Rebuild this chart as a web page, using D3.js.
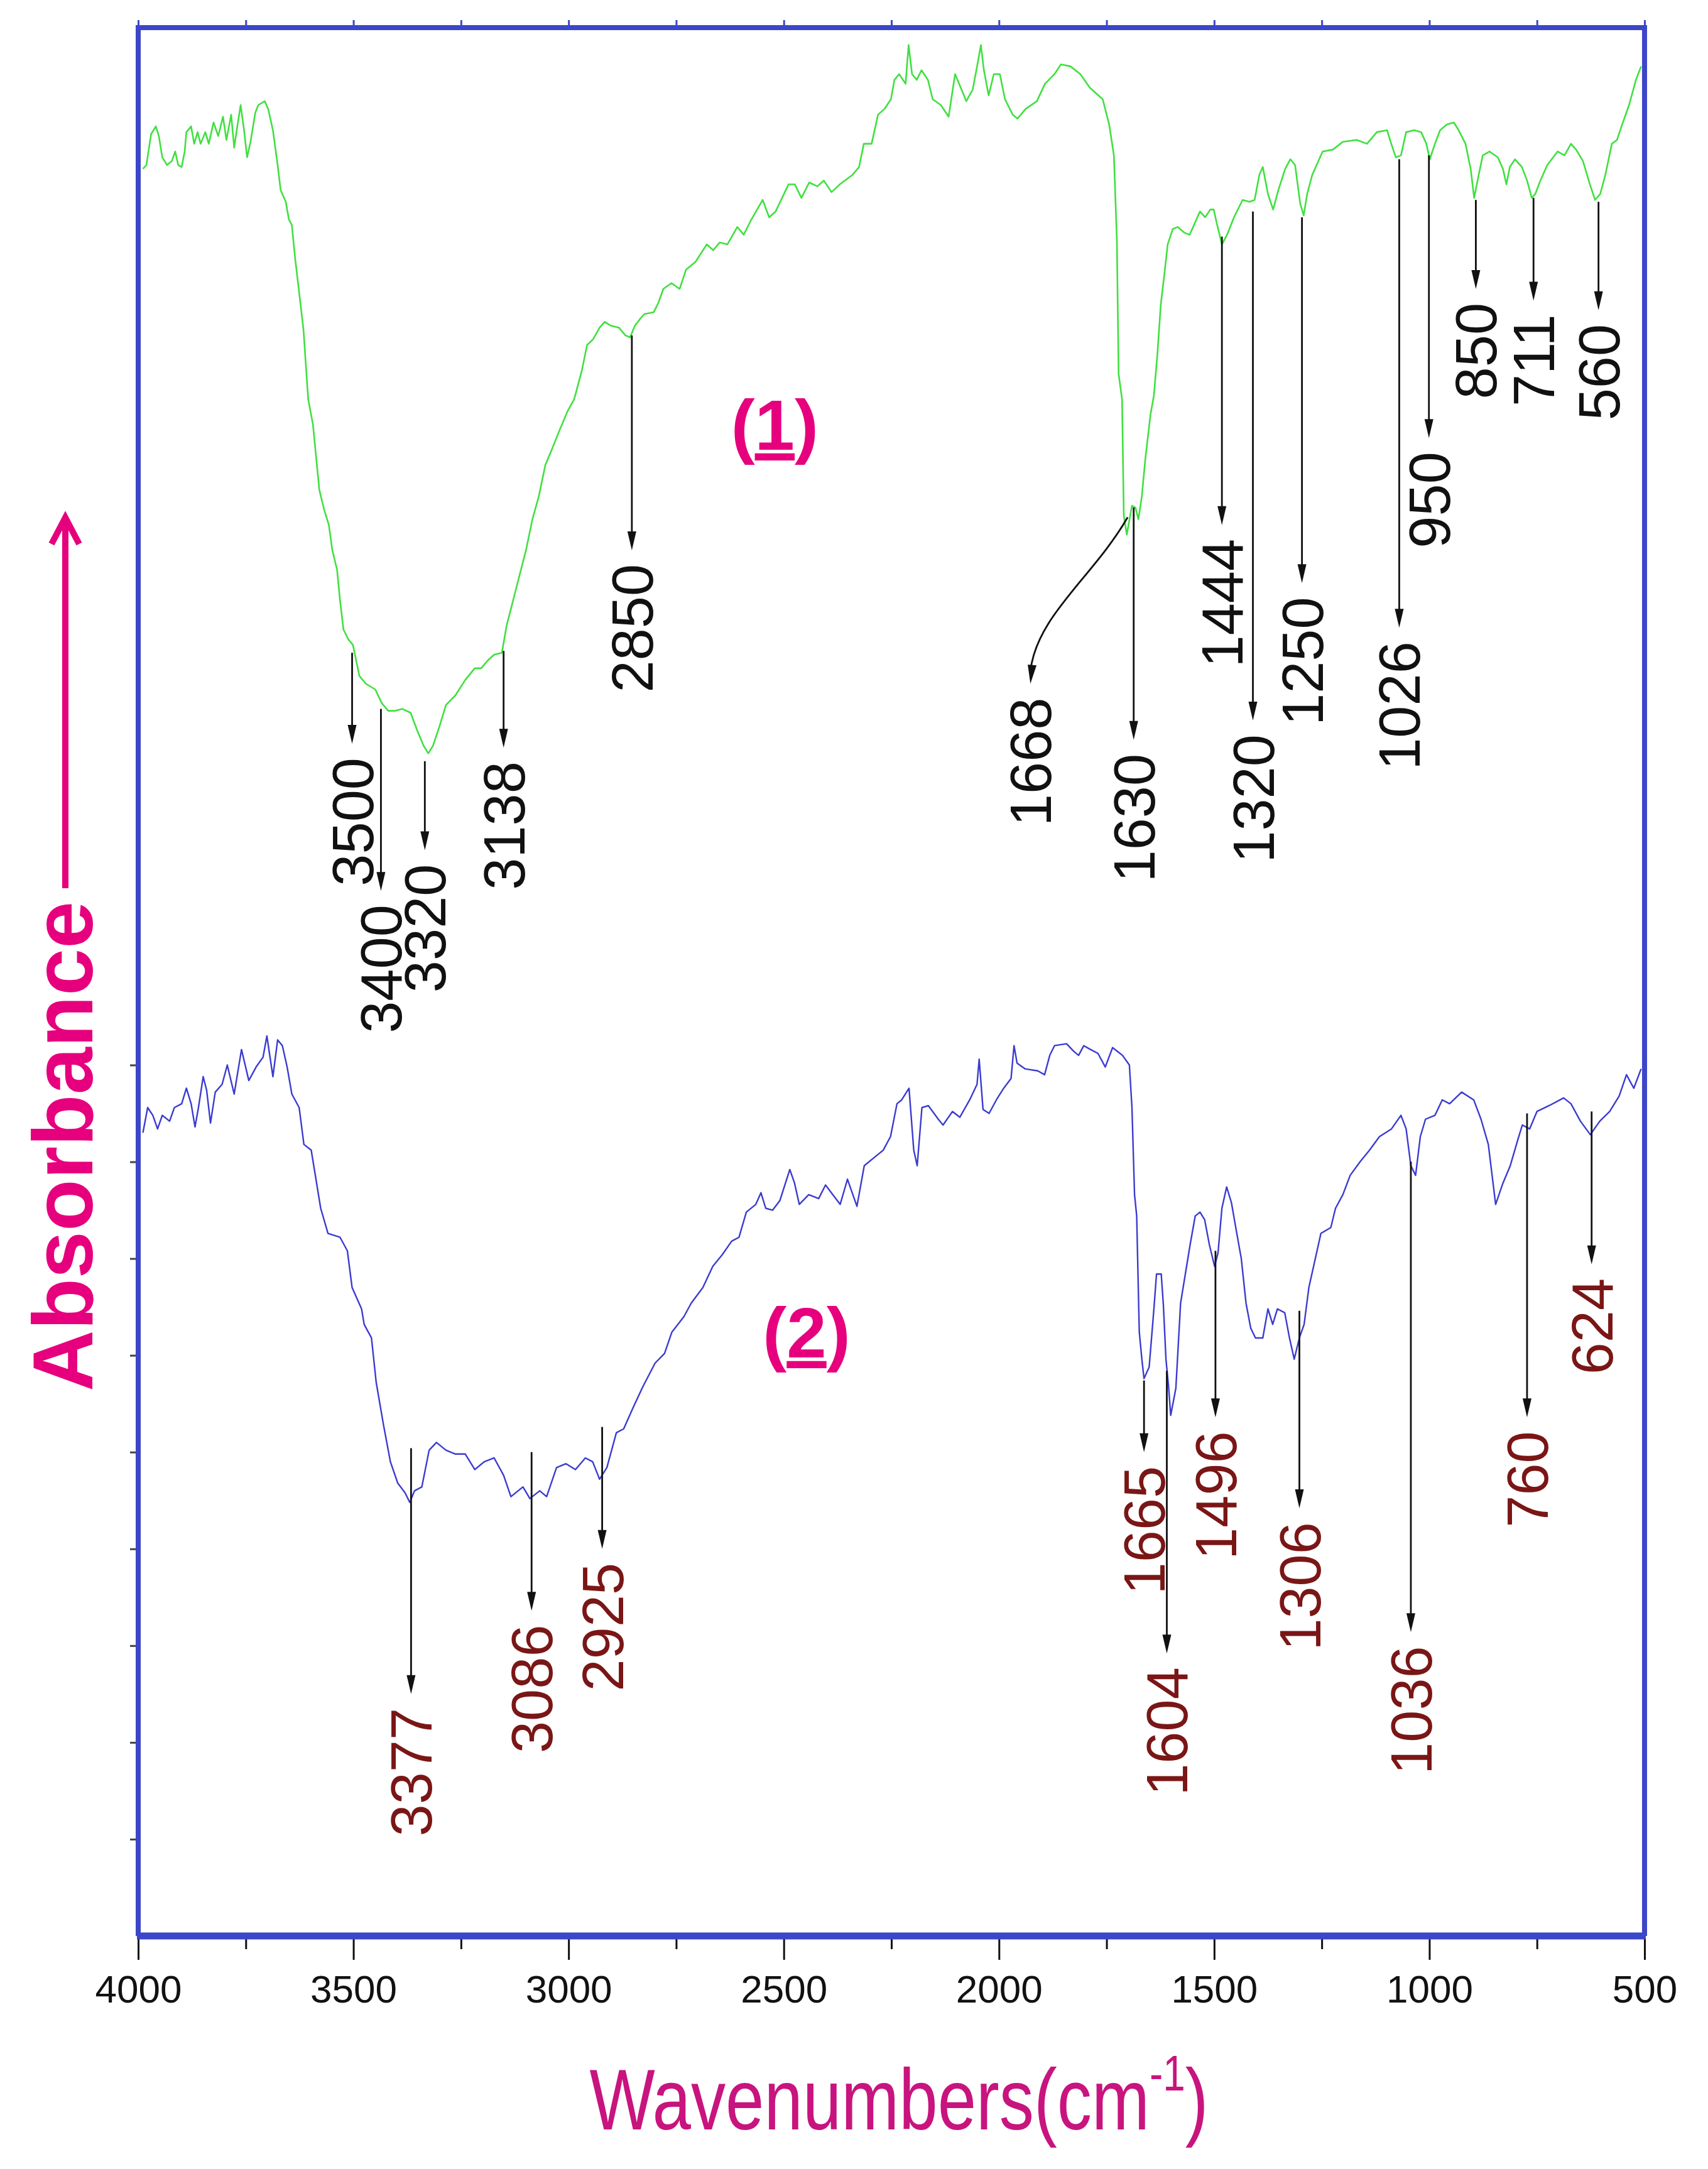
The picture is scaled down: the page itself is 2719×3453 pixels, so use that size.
<!DOCTYPE html>
<html>
<head>
<meta charset="utf-8">
<script src="https://cdn.jsdelivr.net/npm/d3@7"></script>
<style>
  html, body { margin: 0; padding: 0; background: #fff; }
  svg { display: block; font-family: "Liberation Sans", Arial, sans-serif; }
</style>
</head>
<body>
<svg id="chart" width="2719" height="3453"></svg>
<script>
// Spectrum (1): wavenumber (cm-1) and absorbance (a.u., stacked offset)
var WN1 = [3989,3981,3970,3959,3952,3944,3933,3922,3914,3907,3899,3892,3888,3877,3870,3862,3855,3844,3836,3825,
  3814,3803,3795,3784,3777,3769,3762,3754,3747,3739,3728,3721,3706,3698,3687,3676,3669,3657,3650,3643,
  3635,3628,3616,3609,3605,3594,3587,3579,3568,3557,3549,3538,3531,3523,3512,3501,3486,3471,3449,3434,
  3419,3404,3386,3367,3352,3337,3326,3315,3300,3285,3263,3240,3218,3203,3188,3173,3155,3144,3129,3114,
  3099,3084,3069,3054,3039,3021,3002,2987,2969,2957,2943,2928,2916,2902,2883,2868,2857,2846,2832,2824,
  2802,2791,2780,2761,2742,2727,2705,2679,2664,2649,2631,2608,2593,2575,2549,2534,2519,2504,2489,2474,
  2459,2441,2422,2407,2389,2370,2340,2325,2314,2296,2281,2266,2251,2243,2232,2217,2210,2202,2191,2180,
  2165,2154,2135,2117,2102,2087,2076,2061,2050,2042,2035,2024,2012,1998,1986,1968,1957,1938,1912,1893,
  1871,1856,1834,1811,1789,1759,1744,1733,1726,1722,1714,1710,1703,1691,1683,1676,1668,1660,1648,1640,
  1632,1624,1616,1608,1596,1585,1569,1557,1545,1533,1521,1509,1501,1494,1482,1470,1454,1434,1418,1406,
  1395,1387,1375,1363,1351,1335,1323,1312,1300,1292,1284,1272,1248,1224,1201,1169,1145,1122,1098,1090,
  1078,1066,1054,1035,1019,1007,999,987,975,959,943,932,916,904,896,888,876,860,841,829,
  821,813,801,785,773,762,754,742,726,702,686,671,659,643,627,615,603,591,576,564,
  552,536,520,508];
var ABS1 = [91.3,91.5,93.1,93.5,93.0,91.9,91.5,91.7,92.2,91.5,91.4,92.2,93.2,93.5,92.6,93.2,92.6,93.2,92.6,93.7,
  93.0,94.0,92.8,94.1,92.4,93.6,94.6,93.3,91.9,92.7,94.2,94.6,94.8,94.4,93.3,91.5,90.2,89.6,88.7,88.4,
  86.6,85.3,83.0,80.7,79.4,78.1,76.5,74.7,73.7,72.9,71.6,70.6,69.0,67.5,67.0,66.7,65.1,64.7,64.4,63.7,
  63.3,63.3,63.4,63.2,62.3,61.5,61.1,61.5,62.5,63.6,64.1,64.9,65.5,65.5,65.9,66.2,66.3,67.7,69.0,70.3,
  71.6,73.2,74.4,76.0,76.8,77.8,78.8,79.4,80.9,82.2,82.5,83.1,83.4,83.2,83.1,82.7,82.6,83.2,83.6,83.8,
  83.9,84.4,85.1,85.4,85.1,86.1,86.5,87.4,87.1,87.5,87.4,88.3,87.9,88.7,89.7,88.8,89.1,89.8,90.5,90.5,
  89.8,90.6,90.4,90.7,90.1,90.5,91.0,91.4,92.6,92.6,94.1,94.4,94.9,95.9,96.2,95.7,97.7,96.2,95.9,96.4,
  95.9,94.9,94.6,94.0,96.2,95.4,94.8,95.4,96.7,97.7,96.4,95.1,96.2,96.2,94.9,94.1,93.9,94.4,94.8,95.7,
  96.2,96.7,96.6,96.2,95.5,94.9,93.6,92.0,87.6,80.7,79.4,73.4,72.4,73.9,73.8,73.2,74.4,76.3,78.6,79.6,
  81.7,84.3,85.8,87.4,88.2,88.3,88.0,87.9,88.5,89.1,88.8,89.2,89.2,88.5,87.4,87.9,88.8,89.7,89.6,89.7,
  91.0,91.4,90.0,89.2,90.2,91.3,91.8,91.5,89.5,88.9,90.0,91.0,92.2,92.3,92.7,92.8,92.6,93.2,93.3,92.7,
  91.9,92.0,93.2,93.3,93.2,92.6,91.8,92.6,93.3,93.6,93.7,93.3,92.6,91.3,89.8,90.7,92.0,92.2,91.9,91.3,
  90.5,91.4,91.8,91.4,90.7,89.8,90.0,90.7,91.5,92.2,92.0,92.6,92.3,91.7,90.5,89.7,90.0,91.0,92.6,92.8,
  93.6,94.6,95.9,96.6];

// Spectrum (2)
var WN2 = [3989,3978,3966,3955,3944,3927,3916,3899,3888,3877,3868,3860,3849,3841,3832,3821,3805,3793,3777,3760,
  3743,3726,3710,3701,3687,3676,3665,3654,3643,3626,3615,3598,3587,3576,3559,3531,3514,3503,3481,3475,
  3458,3447,3430,3414,3397,3380,3369,3358,3341,3324,3307,3285,3263,3240,3218,3196,3173,3151,3134,3106,
  3090,3067,3051,3028,3006,2984,2961,2944,2928,2911,2889,2872,2850,2827,2799,2777,2760,2732,2715,2688,
  2665,2643,2621,2604,2587,2565,2553,2542,2526,2509,2486,2475,2464,2442,2419,2403,2386,2369,2352,2330,
  2313,2291,2269,2252,2237,2226,2209,2198,2190,2179,2164,2141,2130,2108,2091,2068,2051,2046,2037,2023,
  2006,1989,1972,1965,1958,1939,1910,1894,1882,1871,1843,1826,1815,1803,1787,1770,1753,1736,1713,1697,
  1691,1685,1680,1674,1668,1663,1651,1640,1634,1623,1618,1612,1606,1601,1589,1578,1567,1556,1544,1533,
  1522,1511,1499,1491,1482,1471,1460,1449,1437,1426,1415,1404,1387,1375,1364,1353,1336,1325,1314,1302,
  1291,1280,1263,1252,1229,1218,1201,1184,1161,1139,1116,1088,1066,1054,1043,1032,1021,1009,987,970,
  953,925,897,880,863,846,829,812,795,784,767,750,722,688,671,649,626,604,581,559,
  542,525,508];
var ABS2 = [41.5,42.8,42.4,41.7,42.4,42.1,42.8,43.0,43.8,43.0,41.8,42.8,44.4,43.7,42.0,43.6,44.0,45.0,43.5,45.8,
  44.2,44.9,45.4,46.5,44.4,46.3,46.0,44.9,43.5,42.8,40.9,40.6,39.1,37.6,36.3,36.1,35.4,33.5,32.4,31.6,
  30.9,28.6,26.4,24.5,23.4,22.9,22.4,23.0,23.2,25.1,25.5,25.1,24.9,24.9,24.1,24.5,24.7,23.8,22.7,23.2,
  22.6,23.0,22.7,24.2,24.4,24.1,24.7,24.5,23.6,24.2,26.0,26.2,27.3,28.4,29.6,30.1,31.2,32.0,32.7,33.5,
  34.6,35.2,35.9,36.1,37.4,37.8,38.4,37.6,37.5,38.0,39.6,38.9,37.8,38.3,38.1,38.8,38.3,37.8,39.1,37.7,
  39.8,40.2,40.6,41.3,43.0,43.2,43.8,40.6,39.8,42.8,42.9,42.2,41.9,42.6,42.3,43.2,44.0,45.3,42.7,42.5,
  43.2,43.8,44.3,46.0,45.1,44.8,44.7,44.5,45.5,46.0,46.1,45.7,45.5,46.0,45.8,45.6,44.9,45.9,45.5,45.0,
  42.8,38.3,37.2,31.2,29.8,28.8,29.4,32.4,34.2,34.2,32.6,29.8,28.4,26.9,28.3,32.7,34.2,35.7,37.2,37.4,
  37.0,35.7,34.6,35.3,37.6,38.7,37.9,36.5,35.0,32.7,31.4,30.9,30.9,32.4,31.6,32.4,32.2,30.9,29.8,30.9,
  31.6,33.5,35.2,36.3,36.6,37.6,38.3,39.3,40.0,40.6,41.3,41.7,42.4,41.7,39.8,39.3,41.3,42.2,42.4,43.2,
  43.0,43.6,43.2,42.2,40.9,37.8,38.9,39.8,41.1,41.9,41.7,42.6,42.9,43.3,43.0,42.1,41.4,42.1,42.6,43.4,
  44.5,43.8,44.8];

var X_MAJOR = [4000, 3500, 3000, 2500, 2000, 1500, 1000, 500];
var X_MINOR = [3750, 3250, 2750, 2250, 1750, 1250, 750];
var Y_TICKS = [5, 10, 15, 20, 25, 30, 35, 40, 45];

// peak markers: arrow from curve (top) down to tip, label below
var PEAKS1 = [
  { label: '3500', wn: 3503, top: 66.3, tip: 61.6 },
  { label: '3400', wn: 3436, top: 63.4, tip: 54.0 },
  { label: '3320', wn: 3334, top: 60.7, tip: 56.1 },
  { label: '3138', wn: 3151, top: 66.4, tip: 61.4 },
  { label: '2850', wn: 2853, top: 82.7, tip: 71.6 },
  { label: '1630', wn: 1687, top: 73.8, tip: 61.8 },
  { label: '1444', wn: 1482, top: 87.8, tip: 72.9 },
  { label: '1320', wn: 1410, top: 89.1, tip: 62.8 },
  { label: '1250', wn: 1296, top: 88.8, tip: 69.9 },
  { label: '1026', wn: 1070, top: 91.8, tip: 67.6 },
  { label: '950',  wn: 1001, top: 92.0, tip: 77.4 },
  { label: '850',  wn: 892,  top: 89.7, tip: 85.1 },
  { label: '711',  wn: 758,  top: 89.8, tip: 84.5 },
  { label: '560',  wn: 607,  top: 89.6, tip: 84.0 }
];
// the 1668 marker is a curved arrow ending left of the band
var CURVED1 = { label: '1668', wn: 1701, top: 73.3, endWn: 1927, tip: 64.7 };

var PEAKS2 = [
  { label: '3377', wn: 3366, top: 25.2, tip: 12.5 },
  { label: '3086', wn: 3086, top: 25.0, tip: 16.8 },
  { label: '2925', wn: 2922, top: 26.3, tip: 20.0 },
  { label: '1665', wn: 1663, top: 28.7, tip: 25.0 },
  { label: '1604', wn: 1610, top: 29.2, tip: 14.6 },
  { label: '1496', wn: 1497, top: 35.4, tip: 26.8 },
  { label: '1306', wn: 1302, top: 32.3, tip: 22.1 },
  { label: '1036', wn: 1043, top: 40.0, tip: 15.7 },
  { label: '760',  wn: 773,  top: 42.5, tip: 26.8 },
  { label: '624',  wn: 623,  top: 42.6, tip: 34.7 }
];

var SAMPLE_TAGS = [
  { digit: '1', wn: 2521, y: 76.8 },
  { digit: '2', wn: 2447, y: 29.9 }
];

(function() {
  var FRAME = '#3c46c8';
  var PINK = '#e6007e';

  var svg = d3.select('#chart');
  var x = d3.scaleLinear().domain([4000, 500]).range([220, 2618]);
  var y = d3.scaleLinear().domain([0, 98.6]).range([3082, 44]);
  var x0 = x.range()[0], x1 = x.range()[1];
  var yTop = y.range()[1], yBot = y.range()[0];

  // frame (top, left, right)
  svg.append('path')
    .attr('d', 'M' + x0 + ',' + yBot + 'V' + yTop + 'H' + x1 + 'V' + yBot)
    .attr('fill', 'none')
    .attr('stroke', FRAME)
    .attr('stroke-width', 8);

  // small top ticks
  var topAxis = svg.append('g')
    .attr('transform', 'translate(0,' + (yTop - 4) + ')')
    .call(d3.axisTop(x).tickValues(X_MAJOR.concat(X_MINOR)).tickSize(8).tickFormat(''));
  topAxis.select('.domain').remove();
  topAxis.selectAll('line').attr('stroke', FRAME).attr('stroke-width', 3);

  // left ticks (lower panel only)
  var leftAxis = svg.append('g')
    .attr('transform', 'translate(' + (x0 - 4) + ',0)')
    .call(d3.axisLeft(y).tickValues(Y_TICKS).tickSize(9).tickFormat(''));
  leftAxis.select('.domain').remove();
  leftAxis.selectAll('line').attr('stroke', '#444').attr('stroke-width', 3);

  // bottom axis: minor ticks, major ticks with labels
  var minorAxis = svg.append('g')
    .attr('transform', 'translate(0,' + (yBot + 5) + ')')
    .call(d3.axisBottom(x).tickValues(X_MINOR).tickSize(16).tickFormat(''));
  minorAxis.select('.domain').remove();
  minorAxis.selectAll('line').attr('stroke', '#111').attr('stroke-width', 3);

  var majorAxis = svg.append('g')
    .attr('transform', 'translate(0,' + (yBot + 5) + ')')
    .call(d3.axisBottom(x).tickValues(X_MAJOR).tickSize(33).tickPadding(24).tickFormat(d3.format('d')));
  majorAxis.select('.domain').remove();
  majorAxis.selectAll('line').attr('stroke', '#111').attr('stroke-width', 3);
  majorAxis.selectAll('text')
    .attr('fill', '#111')
    .style('font-size', '62px')
    .style('font-family', '"Liberation Sans", Arial, sans-serif');

  svg.append('line')
    .attr('x1', x0 - 2).attr('x2', x1 + 2)
    .attr('y1', yBot).attr('y2', yBot)
    .attr('stroke', FRAME)
    .attr('stroke-width', 11);

  // spectra
  var line = d3.line()
    .x(function(d) { return x(d[0]); })
    .y(function(d) { return y(d[1]); });

  svg.append('path')
    .datum(d3.zip(WN1, ABS1))
    .attr('d', line)
    .attr('fill', 'none')
    .attr('stroke', '#3fe03f')
    .attr('stroke-width', 2.6)
    .attr('stroke-linejoin', 'round');

  svg.append('path')
    .datum(d3.zip(WN2, ABS2))
    .attr('d', line)
    .attr('fill', 'none')
    .attr('stroke', '#3b3bd0')
    .attr('stroke-width', 2.4)
    .attr('stroke-linejoin', 'round');

  // arrowhead pointing along (dx, dy) with tip at (tx, ty)
  function arrowHead(g, tx, ty, dx, dy, len, half) {
    var n = Math.sqrt(dx * dx + dy * dy);
    var ux = dx / n, uy = dy / n;
    var bx = tx - ux * len, by = ty - uy * len;
    g.append('path')
      .attr('d', 'M' + tx + ',' + ty +
        'L' + (bx - uy * half) + ',' + (by + ux * half) +
        'L' + (bx + uy * half) + ',' + (by - ux * half) + 'Z')
      .attr('fill', '#111');
  }

  function label(g, text, px, py, color) {
    g.append('text')
      .attr('transform', 'translate(' + (px + 33) + ',' + py + ') rotate(-90)')
      .attr('text-anchor', 'end')
      .attr('fill', color)
      .style('font-size', '92px')
      .text(text);
  }

  function drawPeaks(peaks, color) {
    var g = svg.append('g');
    peaks.forEach(function(p) {
      var px = x(p.wn), y1 = y(p.top), y2 = y(p.tip);
      g.append('line')
        .attr('x1', px).attr('x2', px)
        .attr('y1', y1).attr('y2', y2 - 20)
        .attr('stroke', '#111')
        .attr('stroke-width', 2.8);
      arrowHead(g, px, y2, 0, 1, 30, 7);
      label(g, p.label, px, y2 + 22, color);
    });
    return g;
  }

  drawPeaks(PEAKS1, '#111');
  drawPeaks(PEAKS2, '#7a1616');

  // curved arrow for 1668
  (function() {
    var g = svg.append('g');
    var sx = x(CURVED1.wn), sy = y(CURVED1.top);
    var ex = x(CURVED1.endWn), ey = y(CURVED1.tip);
    var dx = ex - sx, dy = ey - sy;
    var c1x = sx + 0.355 * dx, c1y = sy + 0.36 * dy;
    var c2x = ex - 0.065 * dx, c2y = ey - 0.41 * dy;
    g.append('path')
      .attr('d', 'M' + sx + ',' + sy + 'C' + c1x + ',' + c1y + ' ' + c2x + ',' + c2y + ' ' + ex + ',' + (ey - 20))
      .attr('fill', 'none')
      .attr('stroke', '#111')
      .attr('stroke-width', 2.8);
    arrowHead(g, ex, ey, ex - c2x, ey - c2y, 30, 7);
    label(g, CURVED1.label, ex, ey + 22, '#111');
  })();

  // sample tags (1), (2)
  SAMPLE_TAGS.forEach(function(t) {
    var txt = svg.append('text')
      .attr('x', x(t.wn))
      .attr('y', y(t.y))
      .attr('text-anchor', 'middle')
      .attr('fill', PINK)
      .style('font-size', '114px')
      .style('font-weight', 'bold');
    txt.append('tspan').text('(');
    txt.append('tspan').style('text-decoration', 'underline').text(t.digit);
    txt.append('tspan').text(')');
  });

  // y title with arrow
  svg.append('text')
    .attr('transform', 'translate(147,1825) rotate(-90)')
    .attr('text-anchor', 'middle')
    .attr('fill', PINK)
    .style('font-size', '135px')
    .style('font-weight', 'bold')
    .text('Absorbance');
  svg.append('line')
    .attr('x1', 104).attr('x2', 104)
    .attr('y1', 1414).attr('y2', 826)
    .attr('stroke', PINK)
    .attr('stroke-width', 10);
  svg.append('path')
    .attr('d', 'M82,866L104,824L126,866')
    .attr('fill', 'none')
    .attr('stroke', PINK)
    .attr('stroke-width', 10)
    .attr('stroke-linejoin', 'miter');

  // x title
  var xt = svg.append('text')
    .attr('transform', 'translate(1431,3390) scale(0.8,1)')
    .attr('text-anchor', 'middle')
    .attr('fill', '#c8147e')
    .style('font-size', '138px');
  xt.append('tspan').text('Wavenumbers(cm');
  xt.append('tspan').attr('dy', -62).style('font-size', '80px').text('-1');
  xt.append('tspan').attr('dy', 62).text(')');
})();
</script>
</body>
</html>
